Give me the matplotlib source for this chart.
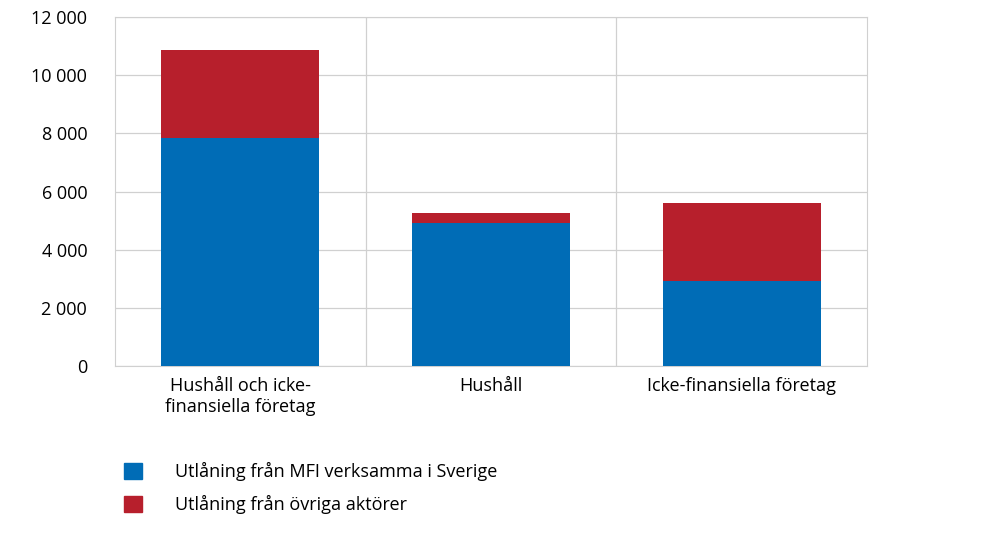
import matplotlib
matplotlib.use("Agg")
import matplotlib.pyplot as plt
from matplotlib.patches import Patch

categories = ["Hushåll och icke-\nfinansiella företag", "Hushåll", "Icke-finansiella företag"]
mfi = [7840, 4920, 2920]
other = [3030, 330, 2680]
series_names = ["Utlåning från MFI verksamma i Sverige", "Utlåning från övriga aktörer"]
yticks = [0, 2000, 4000, 6000, 8000, 10000, 12000]
ytick_labels = ["0", "2 000", "4 000", "6 000", "8 000", "10 000", "12 000"]

plt.rcParams["font.family"] = "Open Sans"
blue, red = "#006cb6", "#b71f2c"
fig = plt.figure(figsize=(10, 5.41), dpi=100)
ax = fig.add_axes([0.115, 0.3235, 0.752, 0.645])
x = range(len(categories))
ax.bar(x, mfi, width=0.63, color=blue, zorder=3)
ax.bar(x, other, bottom=mfi, width=0.63, color=red, zorder=3)
ax.set_xlim(-0.5, 2.5)
ax.set_ylim(0, 12000)
ax.set_yticks(yticks)
ax.set_yticklabels(ytick_labels, fontsize=13)
ax.set_xticks(list(x))
ax.set_xticklabels(categories, fontsize=13, va="top")
ax.tick_params(length=0, pad=8)
ax.tick_params(axis="y", pad=20)
ax.grid(axis="y", color="#d0d0d0", lw=0.9, zorder=0)
for b in [0.5, 1.5]:
    ax.axvline(b, color="#d0d0d0", lw=0.9, zorder=0)
for s in ax.spines.values():
    s.set_color("#d0d0d0")
handles = [Patch(color=blue), Patch(color=red)]
fig.legend(handles, series_names, loc="lower left", bbox_to_anchor=(0.108, 0.02),
           frameon=False, fontsize=13, handlelength=1.0, handleheight=1.0,
           handletextpad=1.8, labelspacing=0.75)
fig.savefig("out.png", dpi=100)
